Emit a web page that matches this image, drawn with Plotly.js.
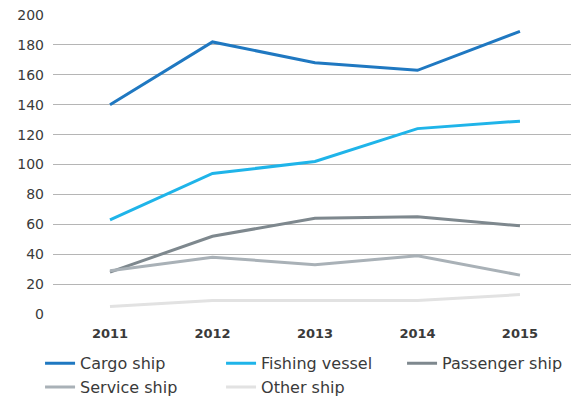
<!DOCTYPE html>
<html>
<head>
<meta charset="utf-8">
<script src="https://cdn.plot.ly/plotly-3.0.1.min.js"></script>
<style>html,body{margin:0;padding:0;background:#fff;}#chart{width:575px;height:400px;}</style>
</head>
<body>
<div id="chart"></div>
<script>
var years = [2011, 2012, 2013, 2014, 2015];
var cargoShip = [140, 182, 168, 163, 189];
var fishingVessel = [63, 94, 102, 124, 129];
var passengerShip = [28, 52, 64, 65, 59];
var serviceShip = [29, 38, 33, 39, 26];
var otherShip = [5, 9, 9, 9, 13];
var seriesNames = ['Cargo ship', 'Fishing vessel', 'Passenger ship', 'Service ship', 'Other ship'];
var seriesValues = [cargoShip, fishingVessel, passengerShip, serviceShip, otherShip];
var seriesColors = ['#1f78c1', '#1fb4e9', '#7e888e', '#a9b1b7', '#e2e2e2'];
var yTicks = [0, 20, 40, 60, 80, 100, 120, 140, 160, 180, 200];

var traces = seriesNames.map(function(n, i) {
  return {
    x: years, y: seriesValues[i], name: n, type: 'scatter', mode: 'lines',
    line: {color: seriesColors[i], width: 3}
  };
});

var layout = {
  width: 575, height: 400,
  margin: {l: 53, r: 4, t: 15, b: 85.5, autoexpand: false},
  paper_bgcolor: '#fff', plot_bgcolor: '#fff',
  font: {family: 'DejaVu Sans', color: '#3a3a3a'},
  showlegend: true,
  xaxis: {
    range: [2010.444, 2015.498], tickvals: years, ticktext: years.map(String),
    showgrid: false, zeroline: false, showline: false, ticks: '',
    tickfont: {size: 13, color: '#3a3a3a', weight: 'bold'}, ticklabelstandoff: 10
  },
  yaxis: {
    range: [0, 200], tickvals: yTicks, showgrid: true, gridcolor: '#b5b5b5', gridwidth: 1,
    zeroline: false, showline: false, ticks: '',
    tickfont: {size: 14, color: '#3a3a3a'}, ticklabelstandoff: 8
  },
  legend: {
    orientation: 'h', x: -0.025, xanchor: 'left', y: -0.108, yanchor: 'top',
    font: {size: 16, color: '#3a3a3a'}, entrywidth: 136, entrywidthmode: 'pixels',
    bgcolor: 'rgba(0,0,0,0)', traceorder: 'normal'
  }
};

Plotly.newPlot('chart', traces, layout, {displayModeBar: false, staticPlot: true});
</script>
</body>
</html>
